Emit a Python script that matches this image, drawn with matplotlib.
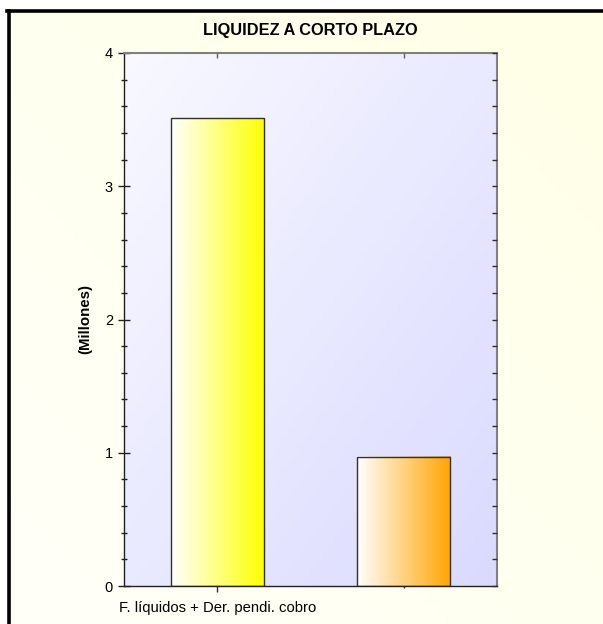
import matplotlib.pyplot as plt
import numpy as np
from matplotlib.patches import Rectangle

plt.rcParams['font.family'] = ['Liberation Sans', 'DejaVu Sans']

# datos del grafico
categorias = ['F. líquidos + Der. pendi. cobro', '']
valores = [3.51, 0.97]   # millones
colores = [(1.0, 1.0, 0.0), (1.0, 0.647, 0.0)]
titulo = 'LIQUIDEZ A CORTO PLAZO'
etiqueta_y = '(Millones)'
ticks_y = [0, 1, 2, 3, 4]

W, H = 603, 624
fig = plt.figure(figsize=(W / 100, H / 100), dpi=100, facecolor='white')

# fondo crema con marco negro (solo se ven los bordes izquierdo y superior)
x0, ytop = 8.5 / W, 1 - 10.5 / H
bg = fig.add_axes([x0, 0, 1 - x0, ytop], zorder=-5)
gx, gy = np.meshgrid(np.linspace(0, 1, 64), np.linspace(0, 1, 64))
t = (gx + (1 - gy)) / 2
crema = np.dstack([np.ones_like(t), np.ones_like(t), 0.975 - 0.07 * t])
bg.imshow(crema, extent=[0, 1, 0, 1], aspect='auto', origin='upper')
bg.set_xlim(0, 1)
bg.set_ylim(0, 1)
bg.axis('off')
fig.add_artist(plt.Line2D([x0, x0], [0, ytop], color='black', lw=2.6, transform=fig.transFigure))
fig.add_artist(plt.Line2D([x0 - 1.2 / W, 1], [ytop, ytop], color='black', lw=2.6, transform=fig.transFigure))

ax = fig.add_axes([124 / W, 1 - 586 / H, (497 - 124) / W, (586 - 53) / H])
ax.patch.set_alpha(0)

# fondo del area del grafico: degradado diagonal lavanda
t2 = (gx + gy) / 2
lav = np.dstack([0.975 - 0.12 * t2, 0.975 - 0.12 * t2, np.ones_like(t2)])
ax.imshow(lav, extent=[0, 1, 0, 1], transform=ax.transAxes, aspect='auto',
          origin='upper', zorder=0)

x = np.arange(len(valores))
ancho = 0.5
for xi, v, c in zip(x, valores, colores):
    s = np.linspace(0, 1, 128)
    grad = np.array([[1 - (1 - c[0]) * k, 1 - (1 - c[1]) * k, 1 - (1 - c[2]) * k] for k in s])
    ax.imshow(grad[np.newaxis, :, :], extent=[xi - ancho / 2, xi + ancho / 2, 0, v],
              aspect='auto', zorder=2)
    ax.add_patch(Rectangle((xi - ancho / 2, 0), ancho, v, fill=False,
                           edgecolor='#303030', lw=1.0, zorder=3))

ax.set_xlim(-0.5, 1.5)
ax.set_ylim(0, 4)

ax.set_yticks(ticks_y)
ax.set_yticks(np.arange(0, 4.01, 0.2), minor=True)
ax.tick_params(axis='y', which='major', direction='inout', length=8, width=1,
               labelsize=10.5, pad=4, color='#202020')
ax.tick_params(axis='y', which='minor', direction='inout', length=4.5, width=1,
               color='#202020')

ax.set_xticks(x)
ax.set_xticklabels(categorias, fontsize=10.7)
ax.tick_params(axis='x', which='major', direction='inout', length=9, width=1,
               pad=6, color='#303030')
ax.get_xaxis().get_major_ticks()[1].tick1line.set_color('#909090')
ax.get_xaxis().get_major_ticks()[1].tick1line.set_markersize(3)

for lado in ['left', 'bottom']:
    ax.spines[lado].set_color('#202020')
    ax.spines[lado].set_linewidth(1.0)
for lado in ['top', 'right']:
    ax.spines[lado].set_color('#808080')
    ax.spines[lado].set_linewidth(1.5)

# marcas del lado derecho y superior (hacia dentro)
axd = ax.twinx()
axd.set_ylim(0, 4)
axd.set_yticks(ticks_y)
axd.set_yticks(np.arange(0, 4.01, 0.2), minor=True)
axd.tick_params(axis='y', which='both', direction='in', length=3.5, width=1,
                labelright=False, color='#303030')
axs = ax.twiny()
axs.set_xlim(-0.5, 1.5)
axs.set_xticks(x)
axs.tick_params(axis='x', direction='in', length=3.5, width=1, labeltop=False,
                color='#606060')
for a in (axd, axs):
    for s in a.spines.values():
        s.set_visible(False)

ax.set_ylabel(etiqueta_y, fontsize=10.8, fontweight='bold')
ax.yaxis.set_label_coords(-32 / (497 - 124), 0.5)
fig.text(310.5 / W, 1 - 31 / H, titulo, ha='center', va='center',
         fontsize=11.8, fontweight='bold')

fig.savefig('out.png', dpi=100, facecolor='white')
